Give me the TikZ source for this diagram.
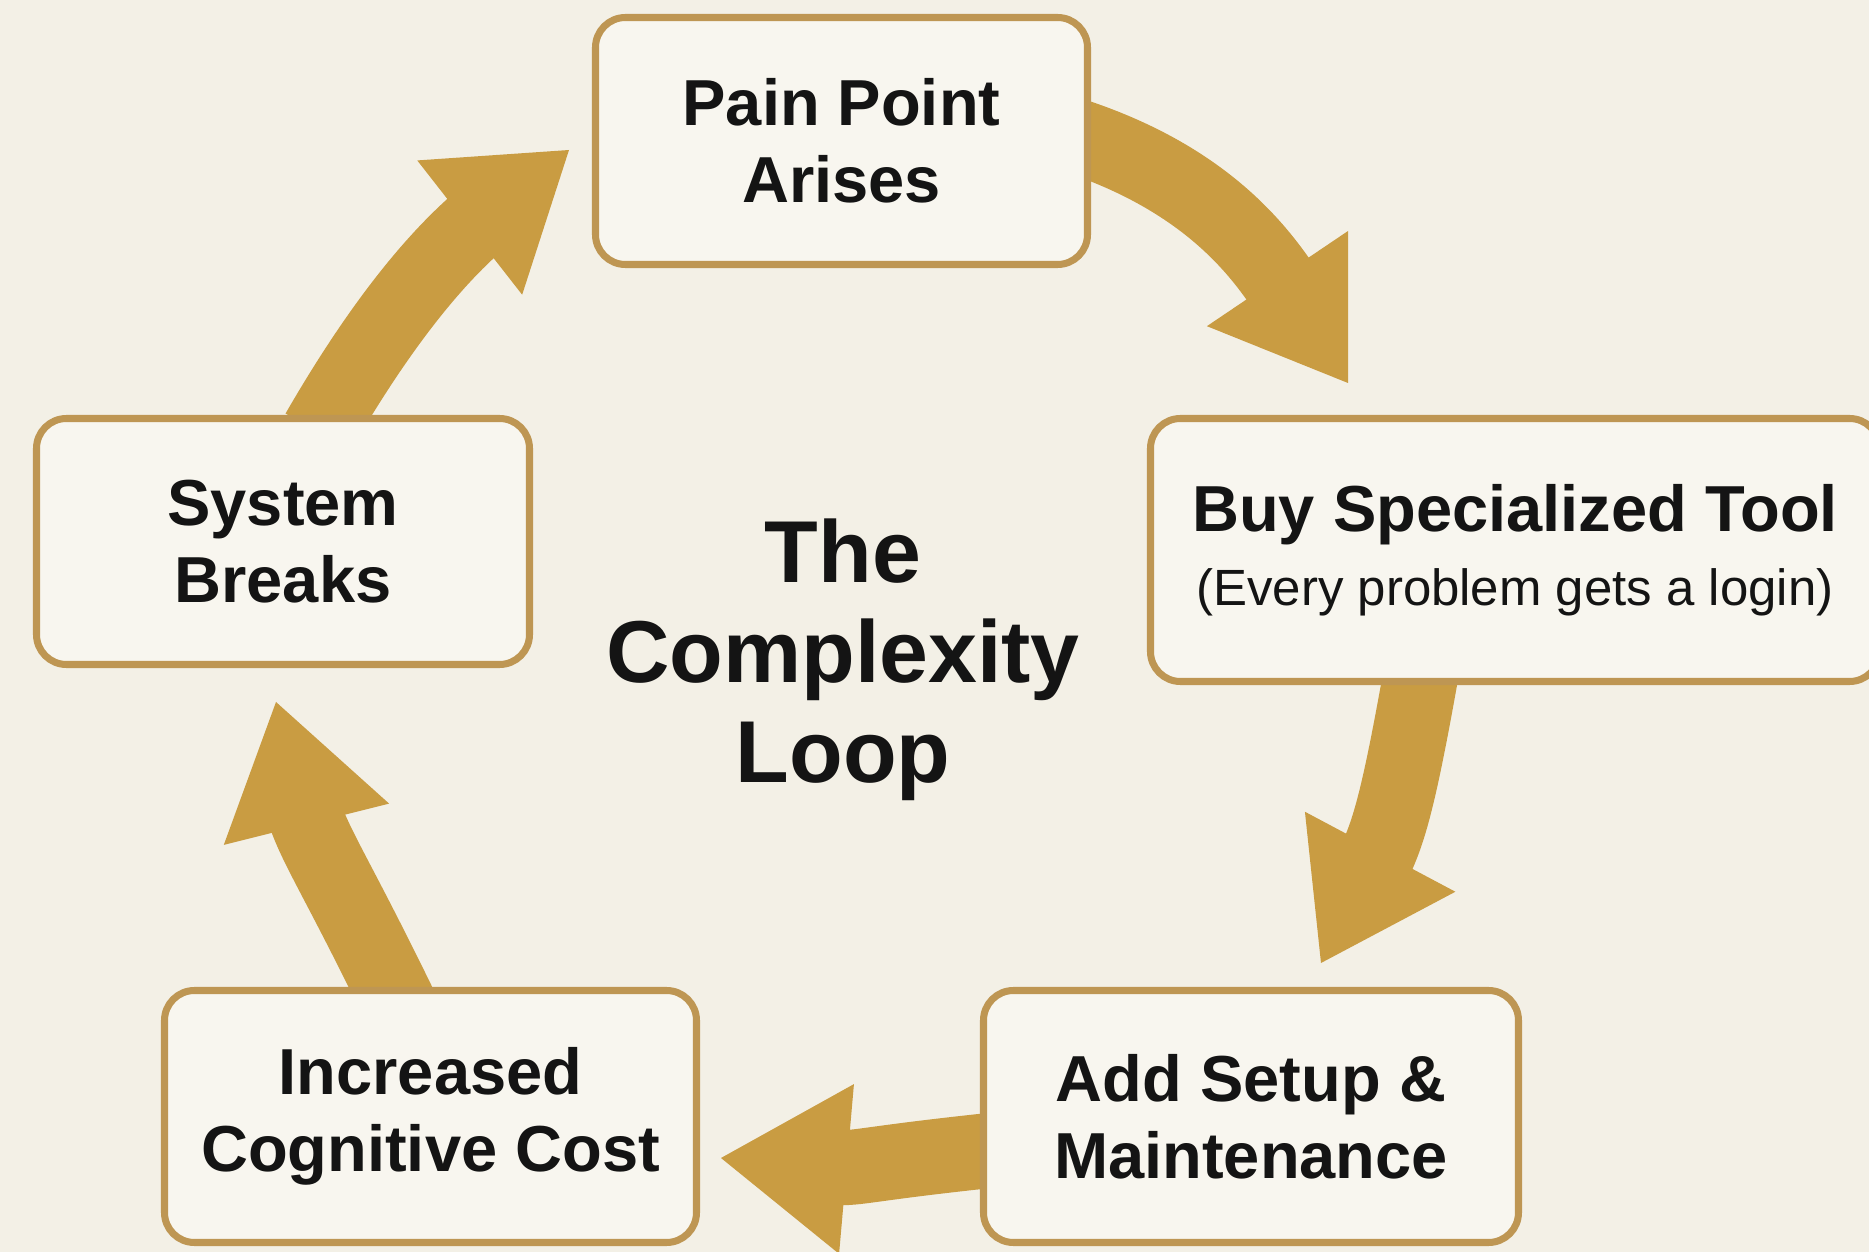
\documentclass[tikz,border=0pt]{standalone}
\usepackage{fontspec}
\setmainfont{Liberation Sans}
\usepackage{tikz}
\usetikzlibrary{positioning,calc,arrows.meta,backgrounds}

\definecolor{paper}{HTML}{F3F0E6}
\definecolor{boxfill}{HTML}{F8F6EF}
\definecolor{boxline}{HTML}{BE9653}
\definecolor{gold}{HTML}{C99C42}
\definecolor{ink}{HTML}{141414}

\begin{document}
\begin{tikzpicture}[
stage/.style={rectangle, draw=boxline, line width=2pt, fill=boxfill, rounded corners=0.3cm, align=center, text=ink, font=\fontsize{18.5}{22}\selectfont\bfseries, minimum width=4.92cm, minimum height=2.47cm},
flow/.style={gold, line width=0.75cm, shorten <=-2mm, shorten >=0.95cm, postaction={draw, line width=0.5pt, shorten >=0pt, -{Triangle[width=1.7cm,length=1.26cm]}}}
]
	\useasboundingbox (0,0) rectangle (18.69,12.52);

	\node at (8.415,11.11) [stage] (pain) {Pain Point\\Arises};
	\node at (15.15,7.02) [stage, minimum width=7.29cm, minimum height=2.63cm] (buy) {Buy Specialized Tool\\[-1pt]{\fontsize{14.5}{17}\selectfont\mdseries (Every problem gets a login)}};
	\node at (12.51,1.355) [stage, minimum width=5.35cm, minimum height=2.52cm] (add) {Add Setup \&\\Maintenance};
	\node at (4.305,1.355) [stage, minimum width=5.32cm, minimum height=2.52cm] (incr) {Increased\\Cognitive Cost};
	\node at (2.83,7.105) [stage, minimum width=4.93cm, minimum height=2.46cm] (sys) {System\\Breaks};

	\node at (8.43,5.92) [align=center, text=ink, font=\fontsize{25}{28.5}\selectfont\bfseries] (title) {The\\Complexity\\Loop};

	\coordinate (tip1) at (13.48,8.69);
	\coordinate (tip2) at (13.21,2.89);
	\coordinate (tip3) at (7.21,0.94);
	\coordinate (tip4) at (2.76,5.50);
	\coordinate (tip5) at (5.69,11.02);

	\begin{scope}[on background layer]
	\fill [paper] (0,0) rectangle (18.69,12.52);
	\draw [flow] (pain.east) to [out=-18, in=124] (tip1);
	\draw [flow] ([xshift=-9.6mm]buy.south) to [out=-100, in=62, looseness=1.2] (tip2);
	\draw [flow] ([yshift=-3.5mm]add.west) to [out=186, in=-5, looseness=1.4] (tip3);
	\draw [flow] ([xshift=-4mm]incr.north) to [out=116, in=-76, looseness=1.2] (tip4);
	\draw [flow] ([xshift=4.5mm]sys.north) to [out=60, in=-142] (tip5);
	\end{scope}

\end{tikzpicture}
\end{document}
